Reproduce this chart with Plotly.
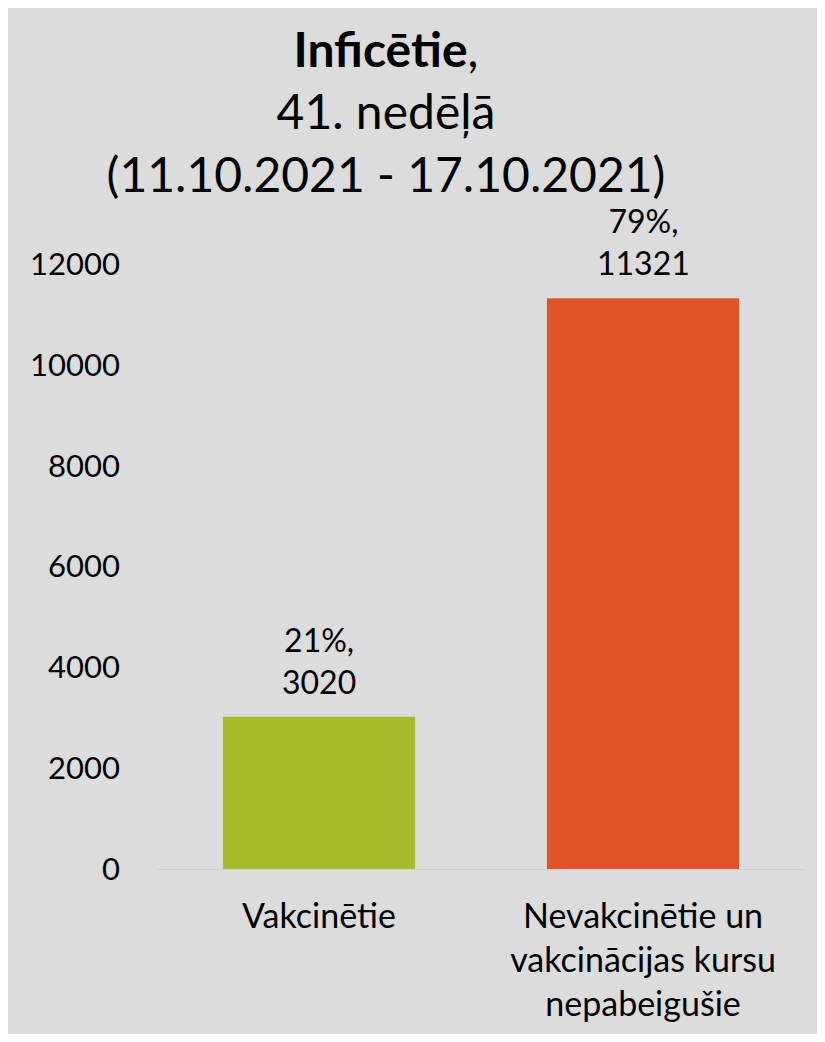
import plotly.graph_objects as go

# data
categories = ["Vakcinētie", "Nevakcinētie un vakcinācijas kursu nepabeigušie"]
tick_labels = ["Vakcinētie", "Nevakcinētie un<br>vakcinācijas kursu<br>nepabeigušie"]
counts = [3020, 11321]
shares = [21, 79]
bar_colors = ["#a8b92a", "#e1542a"]
y_ticks = [0, 2000, 4000, 6000, 8000, 10000, 12000]

BG = "#dcdcdc"
FONT = "Lato"
W, H = 809, 1026  # fits the window inside the page's default 8px body margin

fig = go.Figure()
fig.add_trace(
    go.Bar(
        x=categories,
        y=counts,
        marker={"color": bar_colors, "line": {"width": 0}},
        hoverinfo="skip",
        showlegend=False,
    )
)

for cat, val, pct in zip(categories, counts, shares):
    fig.add_annotation(
        x=cat,
        y=val,
        text=f"{pct}%,<br>{val}",
        showarrow=False,
        yanchor="bottom",
        yshift=14,
        font={"family": FONT, "size": 32, "color": "#000000"},
    )

fig.update_layout(
    width=W,
    height=H,
    paper_bgcolor=BG,
    plot_bgcolor=BG,
    font={"family": FONT, "color": "#000000"},
    title={
        "text": "<b>Inficētie</b>,<br>41. nedēļā<br>(11.10.2021 - 17.10.2021)",
        "font": {"family": FONT, "size": 48, "color": "#000000"},
        "x": 378 / W,
        "xanchor": "center",
        "xref": "container",
        "yref": "container",
        "y": 1 - 59 / H,
        "yanchor": "top",
    },
    bargap=0.407,
    margin={"l": 149, "r": 12, "t": 256, "b": 165},
    xaxis={
        "tickvals": categories,
        "ticktext": tick_labels,
        "tickfont": {"family": FONT, "size": 34},
        "showline": True,
        "linecolor": "#cfcfcf",
        "linewidth": 1,
        "showgrid": False,
        "zeroline": False,
        "ticks": "",
        "ticklabelstandoff": 17,
        "automargin": False,
    },
    yaxis={
        "range": [0, 12000],
        "tickvals": y_ticks,
        "ticktext": [str(v) for v in y_ticks],
        "tickfont": {"family": FONT, "size": 31},
        "showgrid": False,
        "zeroline": False,
        "showline": False,
        "ticks": "",
        "ticklabelstandoff": 36,
        "automargin": False,
    },
)

fig.write_html("out.html")
